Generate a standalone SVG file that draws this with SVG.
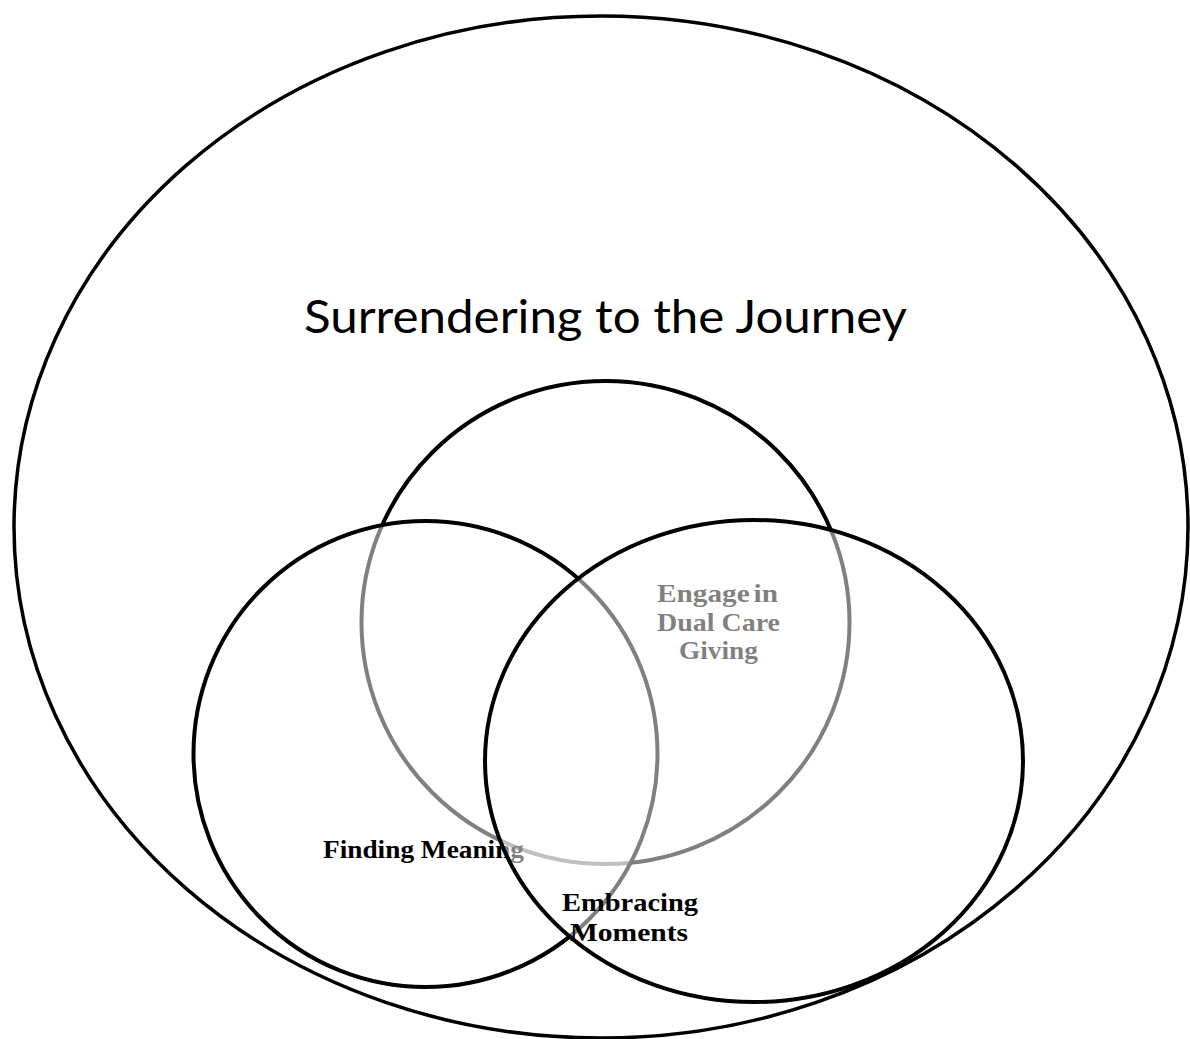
<svg xmlns="http://www.w3.org/2000/svg" width="1190" height="1039" viewBox="0 0 1190 1039">
<style>
.ring{stroke:#000;stroke-width:4;}
.ov{fill:#fff;fill-opacity:0.5;}
.lbl{font-family:"Liberation Serif","Times New Roman",serif;font-weight:bold;font-size:25px;fill:#000;}
.title{font-family:Lato,"Liberation Sans",sans-serif;font-size:46px;fill:#000;}
</style>
<rect width="1190" height="1039" fill="#fff"/>
<g id="outer">
<ellipse cx="601" cy="527" rx="587" ry="511" fill="none" stroke="#000" stroke-width="3.5"/>
<text class="title" x="304" y="333" textLength="603" lengthAdjust="spacingAndGlyphs">Surrendering to the Journey</text>
</g>
<g id="engage">
<ellipse class="ring" cx="605.5" cy="622.5" rx="244" ry="241.5" fill="#fff"/>
<text class="lbl" x="657" y="602" textLength="121" lengthAdjust="spacingAndGlyphs" word-spacing="-3">Engage in</text>
<text class="lbl" x="657" y="631" textLength="123" lengthAdjust="spacingAndGlyphs">Dual Care</text>
<text class="lbl" x="679" y="659" textLength="79" lengthAdjust="spacingAndGlyphs">Giving</text>
</g>
<g id="finding">
<ellipse class="ring ov" cx="425.5" cy="754" rx="232" ry="233"/>
<text class="lbl" x="323" y="858" textLength="201" lengthAdjust="spacingAndGlyphs">Finding Meaning</text>
</g>
<g id="embracing">
<ellipse class="ring ov" cx="754" cy="761" rx="269" ry="241"/>
<text class="lbl" x="562" y="911" textLength="136" lengthAdjust="spacingAndGlyphs">Embracing</text>
<text class="lbl" x="570" y="941" textLength="118" lengthAdjust="spacingAndGlyphs">Moments</text>
</g>
</svg>
